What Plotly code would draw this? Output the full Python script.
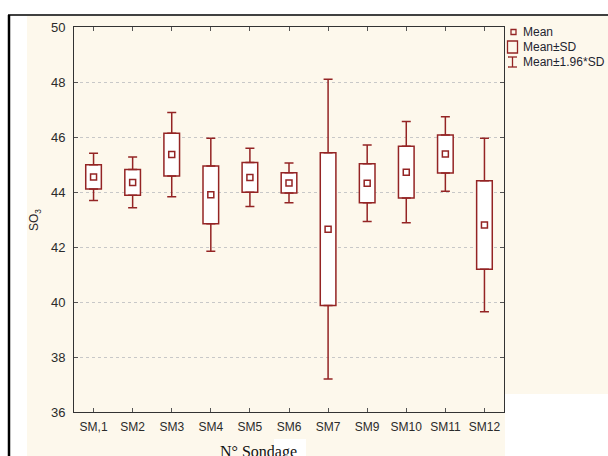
import plotly.graph_objects as go

# SO3 content per borehole: mean and standard deviation
categories = ["SM,1", "SM2", "SM3", "SM4", "SM5", "SM6", "SM7", "SM9", "SM10", "SM11", "SM12"]
means = [44.55, 44.35, 45.36, 43.90, 44.53, 44.33, 42.65, 44.32, 44.72, 45.38, 42.80]
sds = [0.44, 0.47, 0.78, 1.05, 0.54, 0.37, 2.78, 0.71, 0.94, 0.69, 1.61]
y_ticks = [36, 38, 40, 42, 44, 46, 48, 50]

RED = "#942424"
CREAM = "#fdf8ec"
TXT = "#2b2b2b"
FONT = "Arial, Liberation Sans, sans-serif"

lo_sd = [m - s for m, s in zip(means, sds)]
hi_sd = [m + s for m, s in zip(means, sds)]
span_sd = [2 * s for s in sds]
extra = [0.96 * s for s in sds]          # from ±SD out to ±1.96*SD
zeros = [0] * len(sds)

fig = go.Figure()

# box = mean ± SD
fig.add_trace(go.Bar(
    x=categories, base=lo_sd, y=span_sd, width=0.40,
    marker=dict(color="white", line=dict(color=RED, width=1.5)),
    showlegend=False, hoverinfo="skip",
))

# whiskers to mean ± 1.96*SD
fig.add_trace(go.Scatter(
    x=categories, y=hi_sd, mode="markers", marker=dict(size=0.1, opacity=0),
    error_y=dict(type="data", symmetric=False, array=extra, arrayminus=zeros,
                 color=RED, thickness=1.5, width=4.5),
    showlegend=False, hoverinfo="skip",
))
fig.add_trace(go.Scatter(
    x=categories, y=lo_sd, mode="markers", marker=dict(size=0.1, opacity=0),
    error_y=dict(type="data", symmetric=False, array=zeros, arrayminus=extra,
                 color=RED, thickness=1.5, width=4.5),
    showlegend=False, hoverinfo="skip",
))

# mean marker
fig.add_trace(go.Scatter(
    x=categories, y=means, mode="markers",
    marker=dict(symbol="square-open", size=6, color=RED, line=dict(width=1.5, color=RED)),
    showlegend=False, hoverinfo="skip",
))

L, R, T, B = 74, 104, 27, 44
W, H = 608, 456
PW, PH = W - L - R, H - T - B


def px(xp):
    return (xp - L) / PW


def py(yp):
    return (H - B - yp) / PH


shapes = [
    # cream panel backgrounds
    dict(type="rect", xref="paper", yref="paper", x0=px(27), x1=px(608), y0=py(394), y1=py(16),
         fillcolor=CREAM, line=dict(width=0), layer="below"),
    dict(type="rect", xref="paper", yref="paper", x0=px(27), x1=px(505), y0=py(456), y1=py(394),
         fillcolor=CREAM, line=dict(width=0), layer="below"),
    dict(type="rect", xref="paper", yref="paper", x0=px(274), x1=px(306), y0=py(456), y1=py(439),
         fillcolor="white", line=dict(width=0), layer="below"),
    # frame lines
    dict(type="line", xref="paper", yref="paper", x0=px(8), x1=px(608), y0=py(15), y1=py(15),
         line=dict(color="black", width=1.5)),
    dict(type="line", xref="paper", yref="paper", x0=px(9), x1=px(9), y0=py(15), y1=py(456),
         line=dict(color="black", width=2.5)),
    # legend glyphs
    dict(type="rect", xref="paper", yref="paper", x0=px(511), x1=px(516), y0=py(34.5), y1=py(29.5),
         line=dict(color=RED, width=1.3)),
    dict(type="rect", xref="paper", yref="paper", x0=px(507.5), x1=px(517.5), y0=py(53), y1=py(41),
         line=dict(color=RED, width=1.3)),
    dict(type="line", xref="paper", yref="paper", x0=px(512.5), x1=px(512.5), y0=py(67), y1=py(57),
         line=dict(color=RED, width=1.3)),
    dict(type="line", xref="paper", yref="paper", x0=px(508), x1=px(517), y0=py(57), y1=py(57),
         line=dict(color=RED, width=1.3)),
    dict(type="line", xref="paper", yref="paper", x0=px(508), x1=px(517), y0=py(67), y1=py(67),
         line=dict(color=RED, width=1.3)),
]

annotations = [
    dict(text="Mean", x=px(521), y=py(32), xanchor="left", yanchor="middle"),
    dict(text="Mean±SD", x=px(521), y=py(47), xanchor="left", yanchor="middle"),
    dict(text="Mean±1.96*SD", x=px(521), y=py(62), xanchor="left", yanchor="middle"),
]
for a in annotations:
    a.update(xref="paper", yref="paper", showarrow=False,
             font=dict(family=FONT, size=12, color="#1e2530"))

annotations += [
    dict(text="SO<sub>3</sub>", x=px(35), y=py(220), xref="paper", yref="paper",
         textangle=-90, showarrow=False, xanchor="center", yanchor="middle",
         font=dict(family=FONT, size=12, color=TXT)),
    dict(text="N° Sondage", x=px(258), y=py(441), xref="paper", yref="paper",
         showarrow=False, xanchor="center", yanchor="top",
         font=dict(family="Times New Roman, Liberation Serif, serif", size=16, color="#111")),
]

fig.update_layout(
    width=W, height=H,
    margin=dict(l=L, r=R, t=T, b=B),
    paper_bgcolor="white", plot_bgcolor="white",
    shapes=shapes, annotations=annotations,
    showlegend=False, barmode="overlay",
    font=dict(family=FONT, size=12, color=TXT),
)

fig.update_xaxes(
    type="category", range=[-0.5, len(categories) - 0.5],
    showline=True, linecolor="#333", linewidth=1, mirror="ticks",
    ticks="inside", ticklen=4, tickcolor="#555",
    showgrid=False, zeroline=False,
    tickfont=dict(family=FONT, size=12, color=TXT),
    ticklabelstandoff=4,
)
fig.update_yaxes(
    range=[36, 50], tickvals=y_ticks,
    showline=True, linecolor="#333", linewidth=1, mirror="ticks",
    ticks="inside", ticklen=4, tickcolor="#555",
    showgrid=True, gridcolor="#c8c8c8", griddash="dot", gridwidth=1,
    zeroline=False,
    tickfont=dict(family=FONT, size=13, color=TXT),
    ticklabelstandoff=5,
)

fig.write_html("out.html")
